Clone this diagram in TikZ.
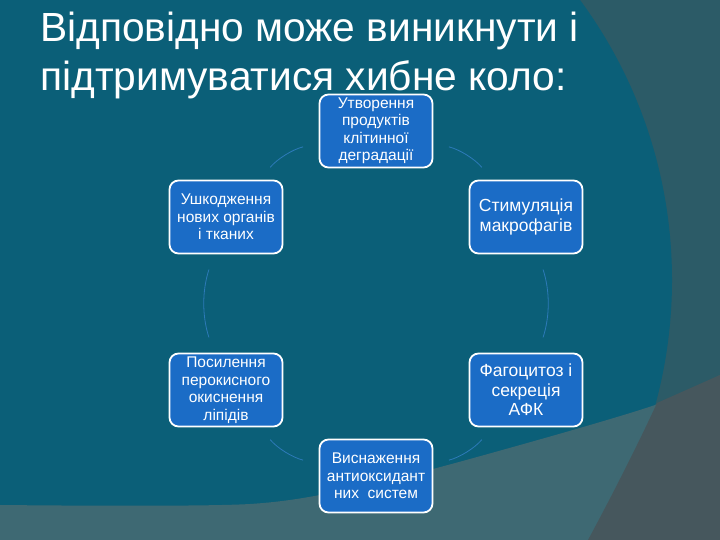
\documentclass[tikz,border=0pt]{standalone}
\usepackage{fontspec}
\setmainfont{Liberation Sans}
\definecolor{slidebg}{HTML}{2C5B67}
\definecolor{slideteal}{HTML}{0B5F78}
\definecolor{slidelow}{HTML}{3E6973}
\definecolor{slidedark}{HTML}{46575D}
\definecolor{boxblue}{HTML}{1B6CC6}
\definecolor{arcblue}{HTML}{2C7AB8}
\begin{document}
\begin{tikzpicture}[x=1pt,y=1pt]
      \useasboundingbox (0,0) rectangle (720,540);
      \begin{scope}
        \clip (0,0) rectangle (720,540);
        \fill[slidebg] (0,0) rectangle (720,540);
        \fill[slideteal] (200,260) circle[radius=472pt];
        \fill[slidelow] plot[smooth] coordinates {(0,35) (250,36) (380,58) (513,93) (655,135) (720,165)} -- (720,0) -- (0,0) -- cycle;
        \fill[slidedark] (588,0) .. controls (615,50) and (640,100) .. (657,137) -- (720,165) -- (720,0) -- cycle;
      \end{scope}
      \begin{scope}[every node/.style={anchor=base west,inner sep=0pt,text=white,font=\fontsize{40.7}{48}\selectfont}]
        \node (head1) at (40,498) {Відповідно може виникнути і};
        \node (head2) at (40,449) {підтримуватися хибне коло:};
      \end{scope}
      \begin{scope}[every node/.style={rectangle,rounded corners=9pt,draw=white,line width=1.8pt,fill=boxblue,text=white,minimum width=113pt,minimum height=73pt,align=center,inner sep=2pt,font=\fontsize{15.5}{17.5}\selectfont}]
        \node (utv) at (376,409) {Утворення\\продуктів\\клітинної\\деградації};
        \node[font=\fontsize{17.5}{19.5}\selectfont] (stym) at (526,323) {Стимуляція\\макрофагів};
        \node[font=\fontsize{17.5}{19.5}\selectfont] (fago) at (526,150) {Фагоцитоз і\\секреція\\АФК};
        \node (vysn) at (376,64) {Виснаження\\антиоксидант\\них\ \ систем};
        \node (pos) at (226,150) {Посилення\\перокисного\\окиснення\\ліпідів};
        \node (ushk) at (226,323) {Ушкодження\\нових органів\\і тканих};
      \end{scope}
      \begin{scope}[every edge/.style={draw=arcblue,line width=0.8pt,bend left=18,shorten <=16pt,shorten >=16pt}]
        \path (utv) edge (stym);
        \path (stym) edge (fago);
        \path (fago) edge (vysn);
        \path (vysn) edge (pos);
        \path (pos) edge (ushk);
        \path (ushk) edge (utv);
      \end{scope}
    \end{tikzpicture}
\end{document}
